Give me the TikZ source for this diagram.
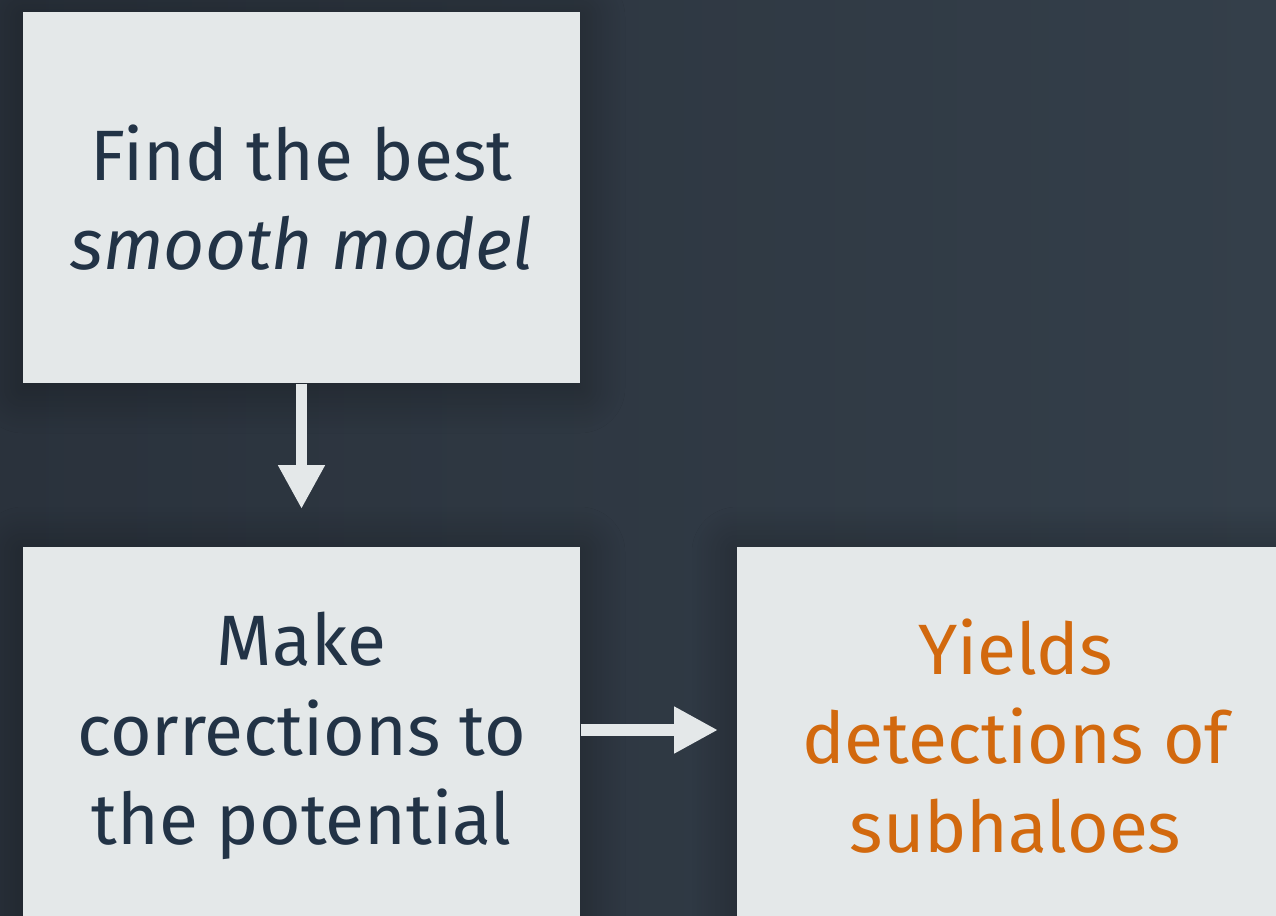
\documentclass[tikz,border=0pt]{standalone}
\usepackage{fontspec}
\setmainfont{Fira Sans}
\usetikzlibrary{arrows.meta,shadows.blur}

\definecolor{slate}{HTML}{2F3A45}
\definecolor{slateleft}{HTML}{2A323C}
\definecolor{slateright}{HTML}{343F4A}
\definecolor{boxgray}{HTML}{E4E8E9}
\definecolor{inkblue}{HTML}{223346}
\definecolor{inkorange}{HTML}{D2690E}

\begin{document}
\begin{tikzpicture}
\tikzstyle{every node}+=[inner sep=0pt]
\tikzstyle{stepbox}=[fill=boxgray, minimum width=5.57cm, minimum height=3.71cm,
  align=center, text=inkblue, font=\fontsize{20.3}{25.4}\selectfont,
  blur shadow={shadow xshift=0pt, shadow yshift=-0.05cm, shadow blur radius=0.45cm,
    shadow blur steps=20, shadow opacity=35}]
\tikzstyle{lowbox}=[stepbox, minimum height=3.78cm]
\tikzstyle{flow}=[draw=boxgray, line width=0.115cm, -{Triangle[width=0.44cm, length=0.44cm]}]
\useasboundingbox (0,0) rectangle (12.76,-9.15);
\clip (0,0) rectangle (12.76,-9.15);
\shade [left color=slateleft, right color=slateright] (0,0) rectangle (12.76,-9.15);
% boxes
\node [stepbox] (smooth) at (3.015,-1.975) {Find the best\\\textit{smooth model}};
\node [lowbox] (correct) at (3.015,-7.36) {Make\\corrections to\\the potential};
\node [lowbox, text=inkorange] (yields) at (10.155,-7.36) {Yields\\detections of\\subhaloes};
% arrows
\coordinate (downtip) at (3.015,-5.09);
\coordinate (righttip) at (7.18,-7.30);
\draw [flow] (smooth.south) -- (downtip);
\draw [flow] (correct.east |- righttip) -- (righttip);
\end{tikzpicture}
\end{document}
